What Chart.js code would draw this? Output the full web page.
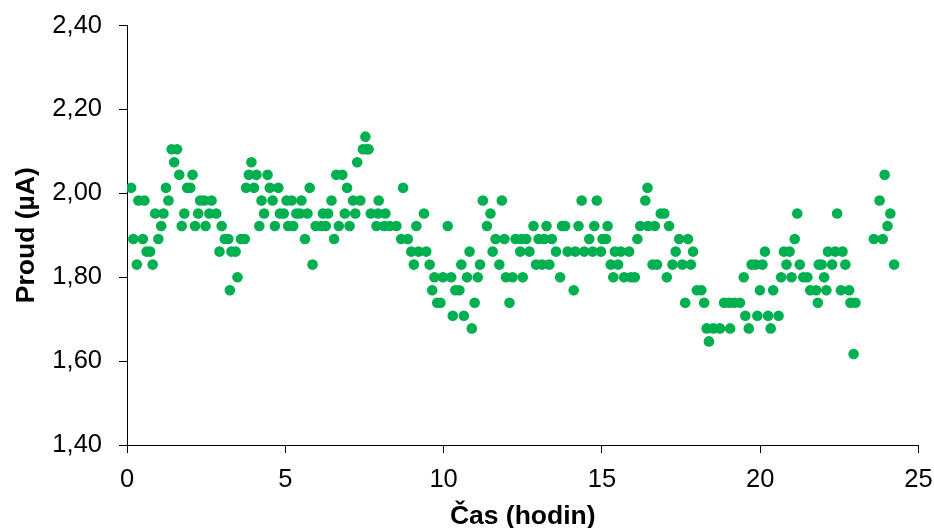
<!DOCTYPE html>
<html>
<head>
<meta charset="utf-8">
<script src="https://cdn.jsdelivr.net/npm/chart.js@4/dist/chart.umd.min.js"></script>
<style>
  html, body { margin: 0; padding: 0; background: #ffffff; }
  #wrap { width: 934px; height: 528px; }
</style>
</head>
<body>
<div id="wrap"><canvas id="c" width="934" height="528"></canvas></div>
<script>
// Time (hours)
const times = [
  0.13,0.20,0.31,0.36,0.50,0.55,0.62,0.73,0.81,0.89,0.99,1.08,1.15,1.23,1.31,1.41,1.49,1.58,1.65,1.73,
  1.81,1.90,2.00,2.07,2.15,2.25,2.31,2.44,2.48,2.60,2.67,2.82,2.92,2.99,3.09,3.20,3.25,3.30,3.43,3.49,3.60,
  3.72,3.76,3.85,3.93,4.01,4.09,4.18,4.25,4.33,4.44,4.51,4.60,4.67,4.78,4.83,4.95,5.04,5.09,5.20,5.25,
  5.35,5.46,5.51,5.62,5.70,5.77,5.86,5.96,6.14,6.19,6.28,6.35,6.46,6.54,6.61,6.69,6.80,6.88,6.95,7.03,
  7.14,7.21,7.27,7.37,7.45,7.53,7.56,7.63,
  7.70,7.88,7.93,7.95,8.12,8.16,8.30,8.51,8.66,8.72,8.87,8.98,9.06,9.14,9.21,9.38,9.45,9.56,9.64,9.71,
  9.80,9.90,9.98,10.13,10.24,10.29,10.37,10.50,10.56,10.64,10.74,10.82,10.89,10.98,11.08,11.15,11.24,11.37,11.48,11.55,11.64,
  11.76,11.84,11.92,11.97,12.08,12.18,12.27,12.42,12.45,12.50,12.61,12.71,12.84,12.92,13.00,13.11,13.18,13.25,13.34,13.42,
  13.55,13.68,13.74,13.84,13.92,14.11,14.16,14.26,14.36,14.44,14.60,14.71,14.76,14.84,14.97,15.02,15.13,15.18,15.28,15.36,
  15.41,15.51,
  15.60,15.70,15.86,15.92,16.04,16.12,16.21,16.37,16.44,16.46,16.60,16.67,16.74,16.86,16.97,17.05,17.12,17.23,17.33,17.44,
  17.54,17.63,17.72,17.81,17.88,18.00,18.14,18.23,18.31,18.38,18.52,18.73,18.86,19.02,19.05,19.18,19.36,19.48,19.53,
  19.64,19.73,19.86,19.91,19.99,20.07,20.15,20.25,20.33,20.41,20.58,20.66,20.75,20.83,20.93,20.99,21.09,21.17,21.25,21.36,
  21.49,21.58,21.77,21.82,21.85,21.94,22.02,22.09,22.14,22.27,22.37,22.43,22.55,22.60,22.69,22.81,22.85,22.95,23.01,
  23.59,23.77,23.87,23.93,24.02,24.11,24.23
];
// Current (µA)
const currents = [
  2.013,1.891,1.830,1.983,1.891,1.983,1.861,1.861,1.830,1.952,1.891,1.922,1.952,2.013,1.983,2.105,2.074,2.105,2.044,1.922,
  1.952,2.013,2.013,2.044,1.922,1.952,1.983,1.983,1.922,1.952,1.983,1.952,1.861,1.922,1.891,1.891,1.769,1.861,1.861,1.800,1.891,
  1.891,2.013,2.044,2.074,2.013,2.044,1.922,1.983,1.952,2.044,2.013,1.983,1.922,2.013,1.952,1.952,1.983,1.922,1.983,1.922,
  1.952,1.952,1.983,1.891,1.952,2.013,1.830,1.922,1.922,1.952,1.922,1.952,1.983,1.891,2.044,1.922,2.044,1.952,2.013,1.922,
  1.983,1.952,2.074,1.983,2.105,2.135,2.105,2.105,
  1.952,1.922,1.952,1.983,1.922,1.952,1.922,1.922,1.891,2.013,1.891,1.861,1.830,1.922,1.861,1.952,1.861,1.830,1.769,1.800,
  1.739,1.739,1.800,1.922,1.800,1.708,1.769,1.769,1.830,1.708,1.800,1.861,1.678,1.739,1.800,1.830,1.983,1.922,1.952,1.861,1.891,
  1.830,1.983,1.891,1.800,1.739,1.800,1.891,1.861,1.891,1.800,1.891,1.861,1.922,1.830,1.891,1.830,1.891,1.922,1.830,1.891,
  1.861,1.800,1.922,1.922,1.861,1.769,1.861,1.922,1.983,1.861,1.891,1.861,1.922,1.983,1.861,1.891,1.891,1.922,1.830,1.800,
  1.861,1.830,
  1.861,1.800,1.861,1.800,1.800,1.891,1.922,1.983,2.013,1.922,1.830,1.922,1.830,1.952,1.952,1.800,1.922,1.830,1.861,1.891,
  1.830,1.739,1.891,1.830,1.861,1.769,1.769,1.739,1.678,1.647,1.678,1.678,1.739,1.739,1.678,1.739,1.739,1.800,1.708,
  1.678,1.830,1.830,1.708,1.769,1.830,1.861,1.708,1.678,1.769,1.708,1.800,1.861,1.830,1.861,1.800,1.891,1.952,1.830,1.800,
  1.800,1.769,1.769,1.739,1.830,1.830,1.800,1.769,1.861,1.830,1.861,1.952,1.769,1.861,1.830,1.769,1.739,1.617,1.739,
  1.891,1.983,1.891,2.044,1.922,1.952,1.830
];
const xTicks = [0, 5, 10, 15, 20, 25];
const yTicks = [1.40, 1.60, 1.80, 2.00, 2.20, 2.40];
const xTitle = 'Čas (hodin)';
const yTitle = 'Proud (µA)';

const points = times.map((t, i) => ({ x: t, y: currents[i] }));
const FONT = "Arial, 'Liberation Sans', sans-serif";

new Chart(document.getElementById('c'), {
  type: 'scatter',
  data: {
    datasets: [{
      data: points,
      backgroundColor: '#00B050',
      borderWidth: 0,
      pointRadius: 5.3,
      pointHoverRadius: 5.3
    }]
  },
  options: {
    responsive: false,
    animation: false,
    devicePixelRatio: 1,
    layout: { padding: { top: 25.5, right: 15.5, left: 0, bottom: 0 } },
    plugins: { legend: { display: false }, tooltip: { enabled: false } },
    scales: {
      x: {
        type: 'linear',
        min: xTicks[0], max: xTicks[xTicks.length - 1],
        afterBuildTicks: (s) => { s.ticks = xTicks.map(v => ({ value: v })); },
        afterFit: (s) => { s.height = 83; s.paddingLeft = 0; s.paddingRight = 0; },
        grid: { drawOnChartArea: false, drawTicks: true, tickLength: 8, color: '#000', lineWidth: 1 },
        border: { color: '#000', width: 1 },
        ticks: { color: '#000', font: { family: FONT, size: 25.5 }, padding: 12, maxRotation: 0,
                 callback: (v) => String(v) },
        title: { display: true, text: xTitle, color: '#000',
                 font: { family: FONT, size: 26.5, weight: 'bold', lineHeight: 0.83 }, padding: { top: 0, bottom: 0 } }
      },
      y: {
        type: 'linear',
        min: yTicks[0], max: yTicks[yTicks.length - 1],
        afterBuildTicks: (s) => { s.ticks = yTicks.map(v => ({ value: v })); },
        afterFit: (s) => { s.width = 127; s.paddingTop = 0; s.paddingBottom = 0; },
        grid: { drawOnChartArea: false, drawTicks: true, tickLength: 8, color: '#000', lineWidth: 1 },
        border: { color: '#000', width: 1 },
        ticks: { color: '#000', font: { family: FONT, size: 25.5 }, padding: 17,
                 callback: (v) => Number(v).toFixed(2).replace('.', ',') },
        title: { display: true, text: yTitle, color: '#000',
                 font: { family: FONT, size: 26.5, weight: 'bold', lineHeight: 1 }, padding: { top: 13.75, bottom: 0 } }
      }
    }
  }
});
</script>
</body>
</html>
